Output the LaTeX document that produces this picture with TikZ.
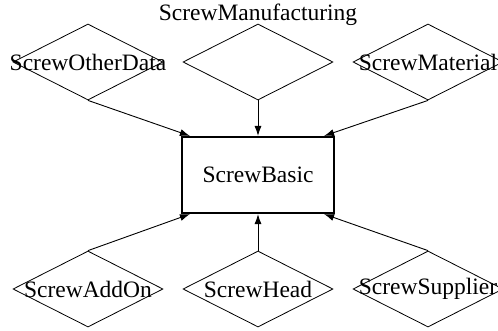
\documentclass[tikz,border=0pt]{standalone}
\usepackage{fontspec}
\setmainfont{Liberation Serif}
\usetikzlibrary{shapes.geometric,arrows.meta,calc}
\begin{document}
\begin{tikzpicture}[x=1pt,y=-1pt,
  every node/.style={font=\fontsize{23.5}{28}\selectfont},
  dia/.style={draw,shape=diamond,line width=0.8pt,minimum width=150pt,minimum height=76pt,inner sep=0pt,aspect=1.97},
  cls/.style={draw,rectangle,line width=2.2pt,minimum width=152pt,minimum height=76pt,inner sep=0pt},
  conn/.style={line width=0.9pt,-{Latex[length=10pt,width=7pt]}}
]
\useasboundingbox (0,0) rectangle (498,330);
\node[cls] (basic) at (258,175) {ScrewBasic};
\node[dia,label={center:ScrewOtherData}] (other) at (88,62) {};
\node[dia] (manu) at (258,62) {};
\node (manulbl) at (258,15) {ScrewManufacturing};
\node[dia,label={center:ScrewMaterial}] (mat) at (428,62) {};
\node[dia,label={center:ScrewAddOn}] (addon) at (88,289) {};
\node[dia,label={center:ScrewHead}] (head) at (258,289) {};
\node[dia,label={center:ScrewSupplier}] (supp) at (428,289) {};
\draw[conn] (other.south) -- ($(basic.north west)+(9,0)$);
\draw[conn] (manu.south) -- (basic.north);
\draw[conn] (mat.south) -- ($(basic.north east)+(-11,0)$);
\draw[conn] (addon.north) -- ($(basic.south west)+(9,0)$);
\draw[conn] (head.north) -- (basic.south);
\draw[conn] (supp.north) -- ($(basic.south east)+(-11,0)$);
\end{tikzpicture}
\end{document}
